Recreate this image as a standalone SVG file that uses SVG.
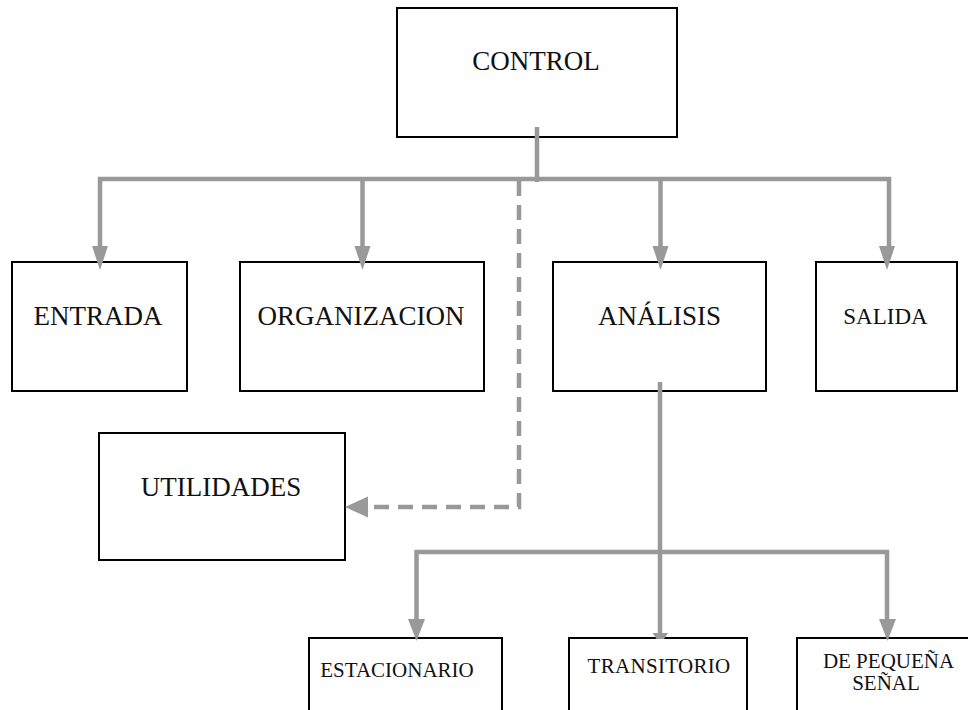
<svg xmlns="http://www.w3.org/2000/svg" width="968" height="710" viewBox="0 0 968 710">
<style>
.box{fill:#fff;stroke:#000;stroke-width:2}
.t{font-family:"Liberation Serif","Times New Roman",serif;fill:#111;text-anchor:middle}
.big{font-size:27px}
.sm{font-size:21px}
.ln{fill:none;stroke:#999;stroke-width:4.5}
.dash{fill:none;stroke:#999;stroke-width:4.5;stroke-dasharray:15 9}
.ah{fill:#999}
</style>
<rect width="968" height="710" fill="#fff"/>
<g id="control"><rect class="box" x="397" y="8" width="280" height="129"/><text class="t big" x="536" y="70">CONTROL</text></g>
<g id="entrada"><rect class="box" x="12" y="262" width="175" height="129"/><text class="t big" x="98" y="325">ENTRADA</text></g>
<g id="organizacion"><rect class="box" x="240" y="262" width="244" height="129"/><text class="t big" x="361" y="325">ORGANIZACION</text></g>
<g id="analisis"><rect class="box" x="553" y="262" width="213" height="129"/><text class="t big" x="659.5" y="325">ANÁLISIS</text></g>
<g id="salida"><rect class="box" x="816" y="262" width="141" height="129"/><text class="t" style="font-size:23px" x="885.5" y="324">SALIDA</text></g>
<g id="utilidades"><rect class="box" x="99" y="433" width="246" height="127"/><text class="t big" x="221" y="496">UTILIDADES</text></g>
<g id="estacionario"><rect class="box" x="309" y="638" width="193" height="100"/><text class="t sm" x="397" y="677">ESTACIONARIO</text></g>
<g id="transitorio"><rect class="box" x="569" y="638" width="178" height="100"/><text class="t sm" x="659" y="673" letter-spacing="0.3">TRANSITORIO</text></g>
<g id="pequena"><rect class="box" x="797" y="638" width="180" height="100"/><text class="t sm" x="888.5" y="668">DE PEQUEÑA</text><text class="t sm" x="886" y="690">SEÑAL</text></g>
<g id="connectors">
<line class="ln" x1="537" y1="127" x2="537" y2="182"/>
<polyline class="ln" points="100,249 100,179 889,179 889,249"/>
<line class="ln" x1="362.5" y1="179" x2="362.5" y2="249"/>
<line class="ln" x1="660.5" y1="179" x2="660.5" y2="249"/>
<polygon class="ah" points="92,246 108,246 100,270"/>
<polygon class="ah" points="354.5,246 370.5,246 362.5,270"/>
<polygon class="ah" points="652.5,246 668.5,246 660.5,270"/>
<polygon class="ah" points="879,246 895,246 887,270"/>
<polyline class="dash" points="519,181 519,507 370,507"/>
<polygon class="ah" points="345,507 368,496.5 368,517.5"/>
<line class="ln" x1="660" y1="382" x2="660" y2="635"/>
<polyline class="ln" points="416.5,622 416.5,552 887,552 887,622"/>
<polygon class="ah" points="408,619 425,619 416.5,641"/>
<polygon class="ah" points="879,619 896,619 887.5,641"/>
<polygon class="ah" points="652.5,633 668,633 664,639 656.5,639"/>
</g>
</svg>
